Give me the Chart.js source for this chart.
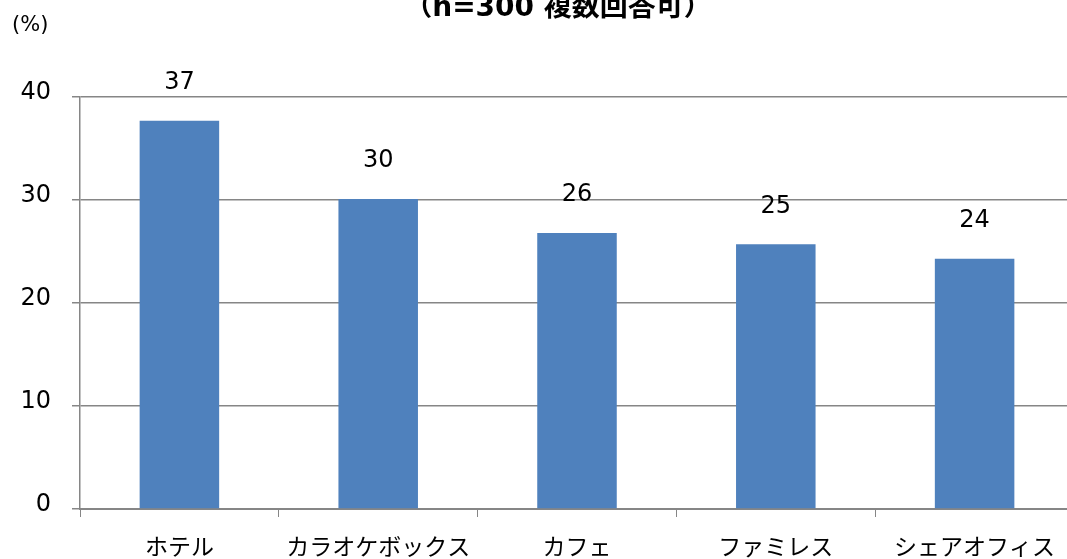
<!DOCTYPE html>
<html>
<head>
<meta charset="utf-8">
<script src="https://cdn.jsdelivr.net/npm/chart.js@4/dist/chart.umd.min.js"></script>
<style>
  html, body { margin: 0; padding: 0; background: #fff; overflow: hidden; }
  #wrap { width: 1075px; height: 559px; }
</style>
</head>
<body>
<div id="wrap"><canvas id="chart" width="1075" height="559"></canvas></div>
<script>
// data
const categories = ['ホテル', 'カラオケボックス', 'カフェ', 'ファミレス', 'シェアオフィス'];
const shares = [37.7, 30.1, 26.8, 25.7, 24.3];
const shareLabels = ['37', '30', '26', '25', '24'];
const yTicks = [0, 10, 20, 30, 40];

const FONT = '"DejaVu Sans", "Noto Sans CJK JP", sans-serif';
const GRID = '#868686';

// value labels above each bar + title and unit text
const annotate = {
    id: 'annotate',
    afterDatasetsDraw(chart) {
        const ctx = chart.ctx;
        const meta = chart.getDatasetMeta(0);
        ctx.save();
        ctx.fillStyle = '#000';
        ctx.font = '24px ' + FONT;
        ctx.textAlign = 'center';
        ctx.textBaseline = 'middle';
        meta.data.forEach((bar, i) => {
            ctx.fillText(shareLabels[i], bar.x, bar.y - 38);
        });
        ctx.textBaseline = 'alphabetic';
        ctx.font = 'bold 28px ' + FONT;
        ctx.fillText('（n=300 複数回答可）', 558, 16);
        ctx.font = '21px ' + FONT;
        ctx.textAlign = 'left';
        ctx.textBaseline = 'middle';
        ctx.fillText('(%)', 12, 26);
        ctx.restore();
    }
};

new Chart(document.getElementById('chart'), {
    type: 'bar',
    data: {
        labels: categories,
        datasets: [{
            data: shares,
            backgroundColor: '#4F81BD',
            barPercentage: 0.4,
            categoryPercentage: 1.0
        }]
    },
    options: {
        responsive: false,
        animation: false,
        layout: { padding: { top: 97, right: 1, left: 0, bottom: 0 } },
        plugins: {
            legend: { display: false },
            tooltip: { enabled: false }
        },
        scales: {
            x: {
                afterFit(scale) { scale.height = 50; },
                grid: {
                    drawOnChartArea: false,
                    color: GRID,
                    tickLength: 8,
                    offset: true
                },
                border: { color: GRID, width: 2 },
                ticks: {
                    color: '#000',
                    font: { family: FONT, size: 23 },
                    padding: 18
                }
            },
            y: {
                min: 0,
                max: 40,
                afterFit(scale) { scale.width = 80; },
                afterBuildTicks(scale) {
                    scale.ticks = yTicks.map(v => ({ value: v }));
                },
                grid: {
                    color: GRID,
                    lineWidth: 1.5,
                    tickLength: 8
                },
                border: { color: GRID, width: 1.5 },
                ticks: {
                    color: '#000',
                    font: { family: FONT, size: 24 },
                    padding: 21,
                    labelOffset: -4
                }
            }
        }
    },
    plugins: [annotate]
});
</script>
</body>
</html>
